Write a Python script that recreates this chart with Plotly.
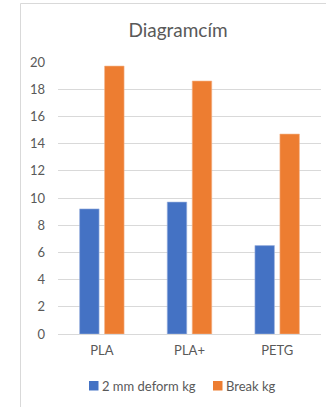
import plotly.graph_objects as go

categories = ["PLA", "PLA+", "PETG"]
deform_2mm = [9.2, 9.7, 6.5]
break_kg = [19.7, 18.6, 14.7]
series_names = ["2 mm deform kg", "Break kg"]
series_colors = ["#4472C4", "#ED7D31"]
y_ticks = [0, 2, 4, 6, 8, 10, 12, 14, 16, 18, 20]
title_text = "Diagramcím"

FONT = "Lato, 'Open Sans', sans-serif"
GRAY = "#595959"

fig = go.Figure()
fig.add_trace(go.Bar(x=categories, y=deform_2mm, name=series_names[0],
                     marker=dict(color=series_colors[0], line=dict(color="#9db3df", width=0.6))))
fig.add_trace(go.Bar(x=categories, y=break_kg, name=series_names[1],
                     marker=dict(color=series_colors[1], line=dict(color="#f5b48a", width=0.6))))

W, H = 326, 407
L, R, T, B = 58, 5, 62, 73
pw = W - L - R
ph = H - T - B


def px_x(px):
    return (px - L) / pw


def px_y(py):
    return (H - B - py) / ph


# legend drawn manually (Excel-style compact legend)
shapes = [dict(type="rect", xref="paper", yref="paper",
               x0=px_x(20.5), x1=1.2, y0=-0.5, y1=px_y(3.5),
               line=dict(color="#d9d9d9", width=1), fillcolor="rgba(0,0,0,0)",
               layer="below")]
annotations = []
legend_square_x = [89, 213]
legend_text_x = [99.5, 223.5]
for name, color, sx, tx in zip(series_names, series_colors, legend_square_x, legend_text_x):
    shapes.append(dict(type="rect", xref="paper", yref="paper",
                       x0=px_x(sx), x1=px_x(sx + 9.5), y0=px_y(390.5), y1=px_y(381),
                       line=dict(width=0), fillcolor=color))
    annotations.append(dict(text=name, xref="paper", yref="paper",
                            x=px_x(tx), y=px_y(386), xanchor="left", yanchor="middle",
                            showarrow=False, font=dict(size=13, color=GRAY, family=FONT)))

fig.update_layout(
    width=W, height=H,
    margin=dict(l=L, r=R, t=T, b=B),
    paper_bgcolor="white", plot_bgcolor="white",
    barmode="group", bargap=0.43, bargroupgap=0.22,
    font=dict(family=FONT, color=GRAY, size=13),
    title=dict(text=title_text, font=dict(size=19, color=GRAY, family=FONT),
               x=178 / W, xref="container", xanchor="center",
               y=1 - 30 / H, yref="container", yanchor="middle"),
    showlegend=False,
    xaxis=dict(showgrid=False, showline=False, zeroline=False,
               tickfont=dict(size=13, color=GRAY), ticklabelstandoff=7),
    yaxis=dict(range=[0, 20], tickvals=y_ticks, showgrid=True,
               gridcolor="#d9d9d9", gridwidth=1, zeroline=True,
               zerolinecolor="#d9d9d9", zerolinewidth=1, showline=False,
               tickfont=dict(size=13, color=GRAY), ticklabelstandoff=12),
    shapes=shapes,
    annotations=annotations,
)

fig.write_html("out.html")
